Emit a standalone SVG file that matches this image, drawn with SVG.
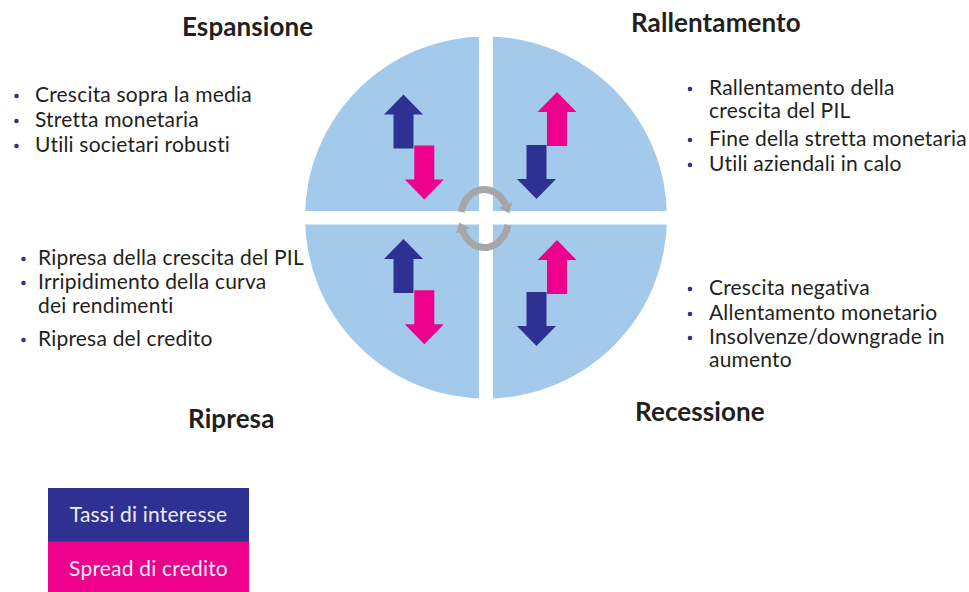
<svg xmlns="http://www.w3.org/2000/svg" width="969" height="592" viewBox="0 0 969 592">
<style>
.title{font-family:Lato,"Noto Sans",sans-serif;font-weight:bold;font-size:26px;letter-spacing:0.1px;fill:#231f20}
.item{font-family:Lato,"Noto Sans",sans-serif;font-size:21px;letter-spacing:0.2px;fill:#231f20}
.dot{fill:#2e3192}
.blue{fill:#2e3192}
.pink{fill:#ec008c}
.ring{fill:none;stroke:#a6a6a6;stroke-width:7}
.head{fill:#a6a6a6}
.leg{font-family:Lato,"Noto Sans",sans-serif;font-size:21px;letter-spacing:0.2px;fill:#ececf5;text-anchor:middle}
</style>
<defs>
<path id="up" d="M0,0 L19.5,20 L10,20 L10,54 L-10,54 L-10,20 L-19.5,20 Z"/>
<path id="down" d="M0,0 L19.5,-20 L10,-20 L10,-54 L-10,-54 L-10,-20 L-19.5,-20 Z"/>
</defs>
<rect width="969" height="592" fill="#ffffff"/>

<g id="wheel">
<circle cx="486" cy="217.5" r="181" fill="#a4caeb"/>
<rect x="479" y="30" width="14" height="380" fill="#ffffff"/>
<rect x="300" y="211" width="372" height="13.5" fill="#ffffff"/>
</g>

<g id="q-espansione-arrows">
<use href="#up" class="blue" x="403.5" y="94.5"/>
<use href="#down" class="pink" x="424.3" y="199.5"/>
</g>
<g id="q-rallentamento-arrows">
<use href="#up" class="pink" x="557" y="92"/>
<use href="#down" class="blue" x="536.5" y="199"/>
</g>
<g id="q-ripresa-arrows">
<use href="#up" class="blue" x="403.5" y="239"/>
<use href="#down" class="pink" x="424.3" y="344.3"/>
</g>
<g id="q-recessione-arrows">
<use href="#up" class="pink" x="557" y="240"/>
<use href="#down" class="blue" x="536.5" y="346"/>
</g>

<g id="cycle">
<path class="ring" d="M461.1,212 A24,29 0 0 1 505.7,205"/>
<polygon class="head" points="512.6,202 498.8,208 509.3,213.3"/>
<path class="ring" d="M507.9,225 A24,29 0 0 1 462.8,231"/>
<polygon class="head" points="469.8,228.3 455.8,233.7 459.5,222.6"/>
</g>

<g id="espansione">
<text class="title" x="182" y="36">Espansione</text>
<circle class="dot" cx="16.5" cy="96" r="2.3"/>
<circle class="dot" cx="16.5" cy="121" r="2.3"/>
<circle class="dot" cx="16.5" cy="146" r="2.3"/>
<text class="item" x="35" y="102">Crescita sopra la media</text>
<text class="item" x="35" y="127">Stretta monetaria</text>
<text class="item" x="35" y="152">Utili societari robusti</text>
</g>

<g id="rallentamento">
<text class="title" x="631" y="32">Rallentamento</text>
<circle class="dot" cx="690" cy="89" r="2.3"/>
<circle class="dot" cx="690" cy="140" r="2.3"/>
<circle class="dot" cx="690" cy="165" r="2.3"/>
<text class="item" x="709" y="95">Rallentamento della</text>
<text class="item" x="709" y="118">crescita del PIL</text>
<text class="item" x="709" y="146">Fine della stretta monetaria</text>
<text class="item" x="709" y="171">Utili aziendali in calo</text>
</g>

<g id="ripresa">
<text class="title" x="188" y="428">Ripresa</text>
<circle class="dot" cx="23.5" cy="259" r="2.3"/>
<circle class="dot" cx="23.5" cy="283" r="2.3"/>
<circle class="dot" cx="23.5" cy="340" r="2.3"/>
<text class="item" x="38" y="265">Ripresa della crescita del PIL</text>
<text class="item" x="38" y="289">Irripidimento della curva</text>
<text class="item" x="38" y="312.5">dei rendimenti</text>
<text class="item" x="38" y="346">Ripresa del credito</text>
</g>

<g id="recessione">
<text class="title" x="635" y="421">Recessione</text>
<circle class="dot" cx="690" cy="289" r="2.3"/>
<circle class="dot" cx="690" cy="314" r="2.3"/>
<circle class="dot" cx="690" cy="338" r="2.3"/>
<text class="item" x="709" y="295">Crescita negativa</text>
<text class="item" x="709" y="320">Allentamento monetario</text>
<text class="item" x="709" y="344">Insolvenze/downgrade in</text>
<text class="item" x="709" y="367">aumento</text>
</g>

<g id="legend">
<rect x="48" y="488" width="201" height="54" class="blue"/>
<text class="leg" x="148.5" y="522">Tassi di interesse</text>
<rect x="48" y="541.5" width="201" height="51" class="pink"/>
<text class="leg" x="148.5" y="576">Spread di credito</text>
</g>
</svg>
